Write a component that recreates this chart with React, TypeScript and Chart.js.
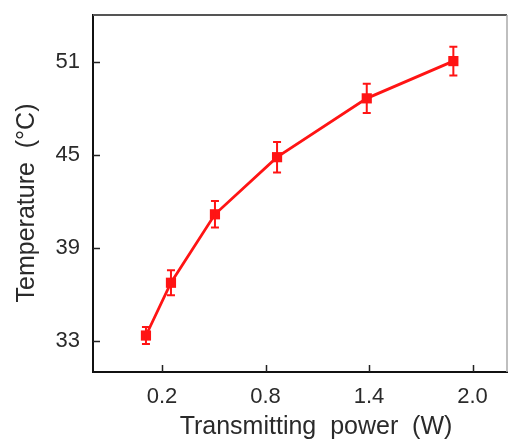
import React, { useEffect, useRef } from "react";
import { Chart, registerables } from "chart.js";

Chart.register(...registerables);

const powerW = [0.107, 0.252, 0.507, 0.867, 1.387, 1.889];
const tempC = [33.35, 36.75, 41.16, 44.84, 48.63, 51.03];
const errC = [0.55, 0.8, 0.85, 0.98, 0.94, 0.92];
const xTicks = [0.2, 0.8, 1.4, 2.0];
const yTicks = [33, 39, 45, 51];
const xTitle = "Transmitting  power  (W)";
const yTitle = "Temperature  (°C)";

const RED = "#ff1414";
const TEXT = "#2a2a2a";
const FONT = "'Liberation Sans', Arial, sans-serif";

const decorPlugin = {
  id: "decor",
  afterDatasetsDraw(chart: any) {
    const { ctx } = chart;
    const xs = chart.scales.x;
    const ys = chart.scales.y;
    ctx.save();
    ctx.strokeStyle = RED;
    ctx.lineWidth = 2;
    const cap = 4;
    powerW.forEach((p, i) => {
      const px = xs.getPixelForValue(p);
      const y1 = ys.getPixelForValue(tempC[i] + errC[i]);
      const y2 = ys.getPixelForValue(tempC[i] - errC[i]);
      ctx.beginPath();
      ctx.moveTo(px, y1);
      ctx.lineTo(px, y2);
      ctx.moveTo(px - cap, y1);
      ctx.lineTo(px + cap, y1);
      ctx.moveTo(px - cap, y2);
      ctx.lineTo(px + cap, y2);
      ctx.stroke();
    });
    ctx.restore();
  },
  afterDraw(chart: any) {
    const { ctx, chartArea } = chart;
    const xs = chart.scales.x;
    const ys = chart.scales.y;
    ctx.save();
    ctx.strokeStyle = "#555";
    ctx.lineWidth = 2;
    ctx.beginPath();
    ctx.moveTo(chartArea.left, chartArea.top);
    ctx.lineTo(chartArea.right, chartArea.top);
    ctx.stroke();
    ctx.strokeStyle = "#aaa";
    ctx.lineWidth = 1.5;
    ctx.beginPath();
    ctx.moveTo(chartArea.right, chartArea.top);
    ctx.lineTo(chartArea.right, chartArea.bottom);
    ctx.stroke();
    ctx.strokeStyle = "#222";
    ctx.lineWidth = 1.5;
    ctx.beginPath();
    xs.ticks.forEach((t: any) => {
      const px = Math.round(xs.getPixelForValue(t.value)) + 0.5;
      ctx.moveTo(px, chartArea.bottom);
      ctx.lineTo(px, chartArea.bottom - 7);
    });
    ys.ticks.forEach((t: any) => {
      const py = Math.round(ys.getPixelForValue(t.value)) + 0.5;
      ctx.moveTo(chartArea.left, py);
      ctx.lineTo(chartArea.left + 7, py);
    });
    ctx.stroke();
    ctx.fillStyle = TEXT;
    ctx.font = `25px ${FONT}`;
    ctx.textAlign = "center";
    ctx.textBaseline = "middle";
    ctx.fillText(xTitle, 316, 427);
    ctx.translate(27, 203);
    ctx.rotate(-Math.PI / 2);
    ctx.fillText(yTitle, 0, 0);
    ctx.restore();
  },
};

export default function App() {
  const ref = useRef<HTMLCanvasElement | null>(null);
  useEffect(() => {
    document.body.style.margin = "0";
    const canvas = ref.current;
    if (!canvas) return;
    const chart = new Chart(canvas, {
      type: "line",
      data: {
        datasets: [
          {
            data: powerW.map((p, i) => ({ x: p, y: tempC[i] })),
            borderColor: RED,
            backgroundColor: RED,
            borderWidth: 2.8,
            pointStyle: "rect",
            pointRadius: 7.2,
            pointBorderWidth: 0,
            pointBackgroundColor: RED,
            tension: 0,
          },
        ],
      },
      options: {
        animation: false,
        responsive: false,
        devicePixelRatio: 1,
        layout: { autoPadding: false, padding: { top: 15, right: 1, left: 0, bottom: 0 } },
        plugins: { legend: { display: false }, tooltip: { enabled: false } },
        scales: {
          x: {
            type: "linear",
            min: -0.2,
            max: 2.2,
            afterBuildTicks: (s: any) => {
              s.ticks = xTicks.map((v) => ({ value: v }));
            },
            afterFit: (s: any) => {
              s.height = 74;
              s.paddingLeft = 0;
              s.paddingRight = 0;
            },
            grid: { display: false, drawTicks: false },
            border: { display: true, color: "#111", width: 2 },
            ticks: {
              padding: 12,
              color: TEXT,
              font: { size: 22, family: FONT },
              callback: (v: any) => Number(v).toFixed(1),
              maxRotation: 0,
            },
          },
          y: {
            min: 31,
            max: 54,
            afterBuildTicks: (s: any) => {
              s.ticks = yTicks.map((v) => ({ value: v }));
            },
            afterFit: (s: any) => {
              s.width = 93;
              s.paddingTop = 0;
              s.paddingBottom = 0;
            },
            grid: { display: false, drawTicks: false },
            border: { display: true, color: "#111", width: 2 },
            ticks: {
              padding: 13,
              color: TEXT,
              font: { size: 22, family: FONT },
              callback: (v: any) => String(v),
            },
          },
        },
      },
      plugins: [decorPlugin],
    });
    return () => chart.destroy();
  }, []);
  return <canvas ref={ref} width={508} height={446} style={{ display: "block" }} />;
}
